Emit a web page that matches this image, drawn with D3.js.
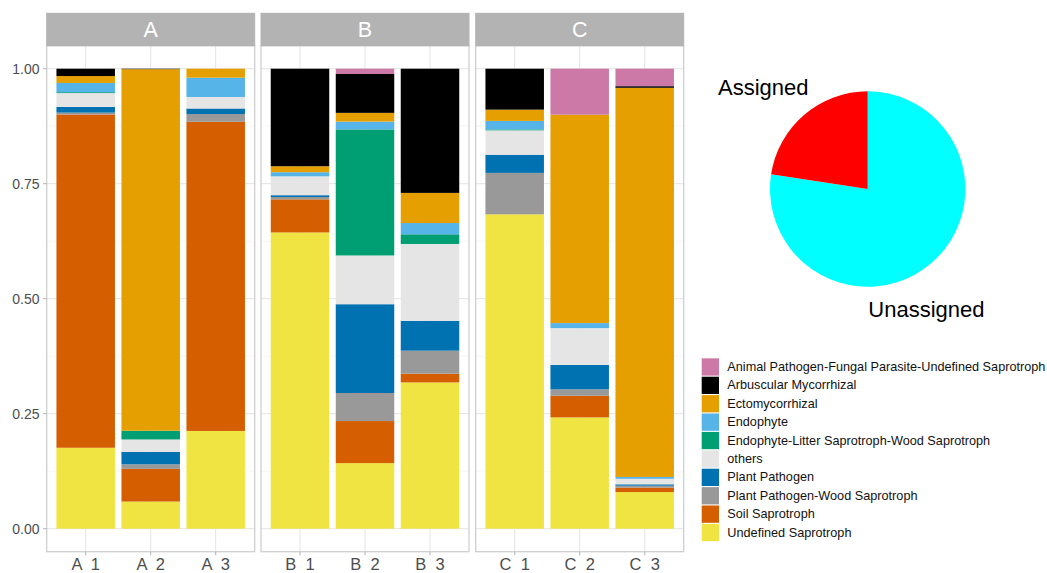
<!DOCTYPE html>
<html>
<head>
<meta charset="utf-8">
<script src="https://cdn.jsdelivr.net/npm/d3@7/dist/d3.min.js"></script>
<style>
  html, body { margin: 0; padding: 0; background: #ffffff; }
  svg { display: block; font-family: "Liberation Sans", Arial, Helvetica, sans-serif; }
</style>
</head>
<body>
<svg id="chart" width="1047" height="573"></svg>
<script>
// Functional guilds, listed top of stack first (legend order)
const guilds = [
  "Animal Pathogen-Fungal Parasite-Undefined Saprotroph",
  "Arbuscular Mycorrhizal",
  "Ectomycorrhizal",
  "Endophyte",
  "Endophyte-Litter Saprotroph-Wood Saprotroph",
  "others",
  "Plant Pathogen",
  "Plant Pathogen-Wood Saprotroph",
  "Soil Saprotroph",
  "Undefined Saprotroph"
];
const guildColors = [
  "#CC79A7", "#000000", "#E69F00", "#56B4E9", "#009E73",
  "#E5E5E5", "#0072B2", "#999999", "#D55E00", "#F0E442"
];

const groups = ["A", "B", "C"];
const samples = {
  A: ["A  1", "A  2", "A  3"],
  B: ["B  1", "B  2", "B  3"],
  C: ["C  1", "C  2", "C  3"]
};

// Relative abundance per sample, one entry per guild (same order as guilds)
const abundance = {
  "A  1": [0.000, 0.016, 0.015, 0.020, 0.002, 0.030, 0.0125, 0.004, 0.7245, 0.176],
  "A  2": [0.000, 0.001, 0.786, 0.000, 0.019, 0.027, 0.027, 0.010, 0.071, 0.059],
  "A  3": [0.000, 0.000, 0.0195, 0.042, 0.000, 0.025, 0.012, 0.017, 0.672, 0.2125],
  "B  1": [0.000, 0.212, 0.013, 0.009, 0.000, 0.041, 0.004, 0.005, 0.072, 0.644],
  "B  2": [0.0115, 0.0845, 0.019, 0.017, 0.274, 0.106, 0.193, 0.061, 0.0915, 0.1425],
  "B  3": [0.000, 0.270, 0.0655, 0.0245, 0.021, 0.167, 0.065, 0.050, 0.019, 0.318],
  "C  1": [0.000, 0.089, 0.0245, 0.0185, 0.002, 0.053, 0.0395, 0.090, 0.000, 0.6835],
  "C  2": [0.100, 0.000, 0.453, 0.011, 0.000, 0.080, 0.053, 0.014, 0.047, 0.242],
  "C  3": [0.038, 0.0035, 0.846, 0.004, 0.000, 0.012, 0.003, 0.0043, 0.0095, 0.0797]
};

const yTicks = [0, 0.25, 0.5, 0.75, 1];
const yTickLabels = ["0.00", "0.25", "0.50", "0.75", "1.00"];
const yMinor = [0.125, 0.375, 0.625, 0.875];

// Share of reads with an assigned guild
const pieLabels = ["Unassigned", "Assigned"];
const pieValues = [0.774, 0.226];
const pieColors = ["#00FFFF", "#FF0000"];

const svg = d3.select("#chart");
const gridCol = "#e3e3e3";
const axisText = "#4d4d4d";

// Shared y scale (ggplot-style 5% expansion)
const y = d3.scaleLinear().domain([-0.05, 1.05]).range([551.7, 45.7]);

const panelLeft = [46.7, 261.0, 475.7];
const panelW = 208;
const stripTop = 13.3, stripBottom = 45.7, panelBottom = 551.7;

groups.forEach((grp, gi) => {
  const x0 = panelLeft[gi];
  const x = d3.scalePoint().domain(samples[grp]).range([x0, x0 + panelW]).padding(0.6);
  const barW = x.step() * 0.9;
  const g = svg.append("g");

  // minor grid
  g.selectAll(".minor").data(yMinor).join("line")
    .attr("x1", x0).attr("x2", x0 + panelW)
    .attr("y1", d => y(d)).attr("y2", d => y(d))
    .attr("stroke", "#f0f0f0").attr("stroke-width", 0.6);
  // major grid
  g.selectAll(".major").data(yTicks).join("line")
    .attr("x1", x0).attr("x2", x0 + panelW)
    .attr("y1", d => y(d)).attr("y2", d => y(d))
    .attr("stroke", gridCol).attr("stroke-width", 1);
  g.selectAll(".vmajor").data(samples[grp]).join("line")
    .attr("x1", d => x(d)).attr("x2", d => x(d))
    .attr("y1", stripBottom).attr("y2", panelBottom)
    .attr("stroke", gridCol).attr("stroke-width", 1);

  // stacked bars: last guild at the bottom
  samples[grp].forEach(s => {
    const vals = abundance[s];
    let cum = 0;
    for (let k = guilds.length - 1; k >= 0; k--) {
      const v = vals[k];
      if (v > 0) {
        g.append("rect")
          .attr("x", x(s) - barW / 2)
          .attr("width", barW)
          .attr("y", y(cum + v))
          .attr("height", y(cum) - y(cum + v))
          .attr("fill", guildColors[k]);
      }
      cum += v;
    }
  });

  // panel border
  g.append("rect")
    .attr("x", x0).attr("y", stripBottom)
    .attr("width", panelW).attr("height", panelBottom - stripBottom)
    .attr("fill", "none").attr("stroke", "#cfcfcf").attr("stroke-width", 1.3);

  // strip
  g.append("rect")
    .attr("x", x0).attr("y", stripTop)
    .attr("width", panelW).attr("height", stripBottom - stripTop)
    .attr("fill", "#b3b3b3").attr("stroke", "#b3b3b3").attr("stroke-width", 1);
  g.append("text")
    .attr("x", x0 + panelW / 2).attr("y", (stripTop + stripBottom) / 2)
    .attr("text-anchor", "middle").attr("dominant-baseline", "central")
    .attr("fill", "#ffffff").attr("font-size", 21.5)
    .text(grp);

  // x axis ticks and labels
  g.selectAll(".xt").data(samples[grp]).join("line")
    .attr("x1", d => x(d)).attr("x2", d => x(d))
    .attr("y1", panelBottom).attr("y2", panelBottom + 3.6)
    .attr("stroke", "#b3b3b3").attr("stroke-width", 1);
  g.selectAll(".xl").data(samples[grp]).join("text")
    .attr("x", d => x(d)).attr("y", 569.5)
    .attr("text-anchor", "middle")
    .attr("fill", axisText).attr("font-size", 16.5)
    .style("white-space", "pre")
    .text(d => d);
});

// y axis on the first panel
const ya = svg.append("g");
ya.selectAll("line").data(yTicks).join("line")
  .attr("x1", panelLeft[0] - 3.6).attr("x2", panelLeft[0])
  .attr("y1", d => y(d)).attr("y2", d => y(d))
  .attr("stroke", "#b3b3b3").attr("stroke-width", 1);
ya.selectAll("text").data(yTicks).join("text")
  .attr("x", 39.5).attr("y", d => y(d))
  .attr("text-anchor", "end").attr("dominant-baseline", "central")
  .attr("fill", axisText).attr("font-size", 14)
  .text((d, i) => yTickLabels[i]);

// legend
const lg = svg.append("g");
const keyX = 701.7, keyY0 = 358.3, keyS = 17.3, rowH = 18.4;
guilds.forEach((name, i) => {
  lg.append("rect")
    .attr("x", keyX).attr("y", keyY0 + i * rowH)
    .attr("width", keyS).attr("height", keyS)
    .attr("fill", guildColors[i]);
  lg.append("text")
    .attr("x", 727.3).attr("y", keyY0 + i * rowH + keyS / 2)
    .attr("dominant-baseline", "central")
    .attr("fill", "#111111").attr("font-size", 12.7)
    .text(name);
});

// pie of assigned vs unassigned
const pieG = svg.append("g").attr("transform", "translate(867.7,189)");
const arcs = d3.pie().sort(null)(pieValues);
const arc = d3.arc().innerRadius(0).outerRadius(97.7);
pieG.selectAll("path").data(arcs).join("path")
  .attr("d", arc)
  .attr("fill", (d, i) => pieColors[i]);

svg.append("text").attr("x", 718).attr("y", 95)
  .attr("font-size", 22).attr("fill", "#000").text(pieLabels[1]);
svg.append("text").attr("x", 868.3).attr("y", 316.7)
  .attr("font-size", 22).attr("fill", "#000").text(pieLabels[0]);
</script>
</body>
</html>
